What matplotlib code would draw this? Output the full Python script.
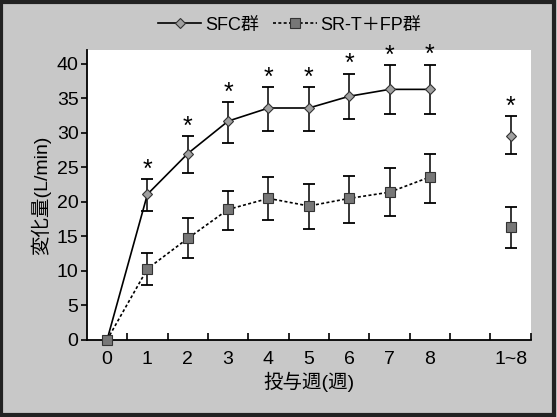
import matplotlib
matplotlib.use("Agg")
import matplotlib.pyplot as plt
from matplotlib.patches import Rectangle
from matplotlib.lines import Line2D
import numpy as np

plt.rcParams["font.family"] = ["Liberation Sans", "Noto Sans CJK JP", "DejaVu Sans"]

# x positions: weeks 0..8, then the 1~8 overall point
weeks = [0, 1, 2, 3, 4, 5, 6, 7, 8]
overall_pos = 10
tick_pos = [0, 1, 2, 3, 4, 5, 6, 7, 8, 10]
tick_labels = ["0", "1", "2", "3", "4", "5", "6", "7", "8", "1~8"]

# SFC group
sfc_mean = [0, 21.1, 27.0, 31.7, 33.6, 33.6, 35.3, 36.3, 36.3]
sfc_upper = [0, 23.3, 29.6, 34.5, 36.7, 36.7, 38.6, 39.8, 39.9]
sfc_lower = [0, 18.7, 24.2, 28.6, 30.3, 30.3, 32.0, 32.8, 32.8]
sfc_all = 29.5
sfc_all_err = (27.0, 32.5)

# SR-T + FP group
srt_mean = [0, 10.3, 14.7, 18.9, 20.5, 19.4, 20.5, 21.4, 23.6]
srt_upper = [0, 12.6, 17.6, 21.6, 23.6, 22.6, 23.7, 24.9, 27.0]
srt_lower = [0, 7.9, 11.8, 15.9, 17.3, 16.1, 17.0, 17.9, 19.9]
srt_all = 16.4
srt_all_err = (13.3, 19.2)

BG = "#c8c8c8"
DIA = dict(marker="D", ms=5, mfc="#a0a0a0", mec="#333333", mew=0.8)
SQ = dict(marker="s", ms=7, mfc="#777777", mec="#333333", mew=0.8)

fig = plt.figure(figsize=(5.57, 4.17), dpi=100, facecolor=BG)
ax = fig.add_axes([0.156, 0.185, 0.797, 0.695])
ax.set_facecolor("white")

err_kw = dict(ecolor="black", elinewidth=1.1, capsize=4.5, capthick=1.3)

# SFC
sfc_m = np.array(sfc_mean)
ax.errorbar(weeks[1:], sfc_m[1:],
            yerr=[sfc_m[1:] - np.array(sfc_lower[1:]), np.array(sfc_upper[1:]) - sfc_m[1:]],
            fmt="none", **err_kw)
ax.plot(weeks, sfc_mean, color="black", lw=1.2, zorder=4, clip_on=False, **DIA)
ax.errorbar([overall_pos], [sfc_all],
            yerr=[[sfc_all - sfc_all_err[0]], [sfc_all_err[1] - sfc_all]],
            fmt="none", **err_kw)
ax.plot([overall_pos], [sfc_all], ls="none", zorder=4, **DIA)

# SR-T + FP
srt_m = np.array(srt_mean)
ax.errorbar(weeks[1:], srt_m[1:],
            yerr=[srt_m[1:] - np.array(srt_lower[1:]), np.array(srt_upper[1:]) - srt_m[1:]],
            fmt="none", **err_kw)
ax.plot(weeks, srt_mean, color="black", lw=1.2, ls=(0, (1.8, 1.4)), zorder=5,
        clip_on=False, **SQ)
ax.errorbar([overall_pos], [srt_all],
            yerr=[[srt_all - srt_all_err[0]], [srt_all_err[1] - srt_all]],
            fmt="none", **err_kw)
ax.plot([overall_pos], [srt_all], ls="none", zorder=5, **SQ)

# significance asterisks
star_x = weeks[1:] + [overall_pos]
star_y = sfc_upper[1:] + [sfc_all_err[1]]
for x, y in zip(star_x, star_y):
    ax.annotate("*", (x, y), xytext=(0, -2), textcoords="offset points",
                ha="center", va="bottom", fontsize=18)

ax.set_xlim(-0.5, 10.5)
ax.set_ylim(0, 42)
ax.set_yticks(range(0, 41, 5))
ax.set_xticks(tick_pos)
ax.set_xticklabels(tick_labels)
ax.set_xticks(np.arange(0.5, 10.6, 1), minor=True)
ax.tick_params(axis="x", which="major", length=0, labelsize=14, pad=8)
ax.tick_params(axis="x", which="minor", direction="in", length=5, width=1.2)
ax.tick_params(axis="y", direction="out", length=4, width=1.2, labelsize=14, pad=2)

for side in ["top", "right"]:
    ax.spines[side].set_visible(False)
for side in ["left", "bottom"]:
    ax.spines[side].set_linewidth(1.3)

ax.set_xlabel("投与週(週)", fontsize=14, labelpad=3)
ax.set_ylabel("変化量(L/min)", fontsize=14, labelpad=4)

handles = [
    Line2D([], [], color="black", lw=1.2, **DIA),
    Line2D([], [], color="black", lw=1.2, ls=(0, (1.8, 1.4)), **SQ),
]
fig.legend(handles, ["SFC群", "SR-T＋FP群"], loc="center", bbox_to_anchor=(0.52, 0.94),
           ncol=2, frameon=False, fontsize=13, handlelength=2.4, handletextpad=0.2,
           columnspacing=0.8)

# outer frame
fig.patches.append(Rectangle((0.002, 0.004), 0.993, 0.992, transform=fig.transFigure,
                             fill=False, edgecolor="#222222", lw=3))

fig.savefig("out.png", dpi=100, facecolor=BG)
